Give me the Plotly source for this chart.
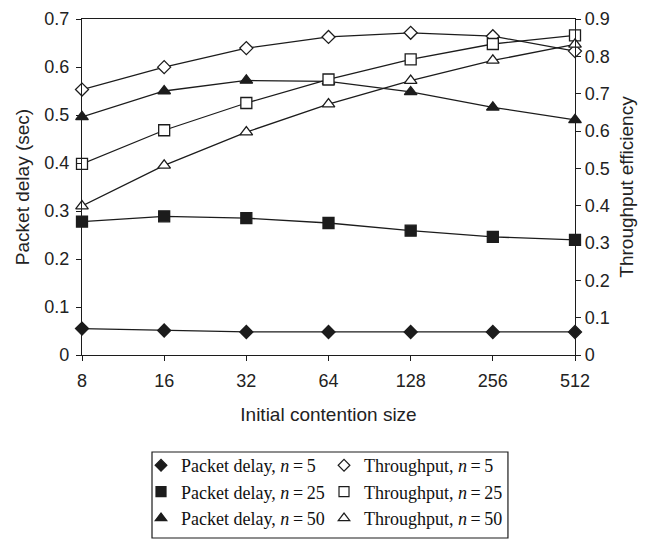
import plotly.graph_objects as go

# Initial contention window sizes (x categories)
contention = ["8", "16", "32", "64", "128", "256", "512"]

# Packet delay in seconds (left axis)
delay_n5 = [0.055, 0.051, 0.048, 0.048, 0.048, 0.048, 0.048]
delay_n25 = [0.278, 0.289, 0.285, 0.275, 0.259, 0.246, 0.240]
delay_n50 = [0.496, 0.550, 0.572, 0.570, 0.548, 0.516, 0.490]

# Throughput efficiency (right axis)
thr_n5 = [0.711, 0.771, 0.822, 0.852, 0.863, 0.854, 0.814]
thr_n25 = [0.512, 0.602, 0.675, 0.738, 0.792, 0.833, 0.856]
thr_n50 = [0.399, 0.508, 0.597, 0.672, 0.735, 0.789, 0.832]

left_ticks = [0, 0.1, 0.2, 0.3, 0.4, 0.5, 0.6, 0.7]
right_ticks = [0, 0.1, 0.2, 0.3, 0.4, 0.5, 0.6, 0.7, 0.8, 0.9]

INK = "#1c1c1c"
SANS = "Liberation Sans, Arial, sans-serif"
SERIF = "Liberation Serif, Times New Roman, serif"
EQ = "\u2009=\u2009"

series = [
    # name, values, axis, symbol, size, filled
    ("Packet delay, <i>n</i>" + EQ + "5", delay_n5, "y", "diamond", 10, True),
    ("Throughput, <i>n</i>" + EQ + "5", thr_n5, "y2", "diamond", 10, False),
    ("Packet delay, <i>n</i>" + EQ + "25", delay_n25, "y", "square", 11, True),
    ("Throughput, <i>n</i>" + EQ + "25", thr_n25, "y2", "square", 11, False),
    ("Packet delay, <i>n</i>" + EQ + "50", delay_n50, "y", "triangle-up", 11, True),
    ("Throughput, <i>n</i>" + EQ + "50", thr_n50, "y2", "triangle-up", 11, False),
]

fig = go.Figure()

# Data lines: delays first, throughput drawn on top
for filled_pass in (True, False):
    for name, vals, axis, sym, size, filled in series:
        if filled != filled_pass:
            continue
        fig.add_trace(go.Scatter(
            x=contention, y=vals, yaxis=axis, mode="lines+markers",
            name=name, showlegend=False, cliponaxis=False,
            line=dict(color=INK, width=1.3),
            marker=dict(symbol=sym, size=size,
                        color=INK if filled else "white",
                        line=dict(color=INK, width=1.3)),
        ))

# Legend keys (marker only)
for name, vals, axis, sym, size, filled in series:
    fig.add_trace(go.Scatter(
        x=[None], y=[None], yaxis=axis, mode="markers", name=name,
        marker=dict(symbol=sym, size=size - 1,
                    color=INK if filled else "white",
                    line=dict(color=INK, width=1.2)),
    ))

# Frame around the legend
fig.add_shape(type="rect", xref="paper", yref="paper",
              x0=0.142, x1=0.864, y0=-0.5446, y1=-0.2887,
              line=dict(color=INK, width=1.2), fillcolor="rgba(0,0,0,0)")

fig.update_layout(
    width=649, height=540,
    margin=dict(l=82, r=74, t=19, b=185, autoexpand=False),
    paper_bgcolor="white", plot_bgcolor="white",
    font=dict(family=SANS, size=18, color="#222222"),
    xaxis=dict(
        type="category", range=[0, 6],
        showline=True, linecolor=INK, linewidth=1.3, mirror=True,
        showgrid=False, zeroline=False,
        ticks="outside", ticklen=5, tickcolor=INK, tickwidth=1.2,
        ticklabelstandoff=4,
        tickfont=dict(size=18),
        title=dict(text="Initial contention size", font=dict(size=19), standoff=17),
    ),
    yaxis=dict(
        range=[0, 0.7], tickvals=left_ticks,
        ticktext=[("%g" % v) for v in left_ticks],
        showline=True, linecolor=INK, linewidth=1.3,
        showgrid=False, zeroline=False,
        ticks="outside", ticklen=5, tickcolor=INK, tickwidth=1.2,
        ticklabelstandoff=3,
        title=dict(text="Packet delay (sec)", font=dict(size=19), standoff=9),
    ),
    yaxis2=dict(
        range=[0, 0.9], tickvals=right_ticks,
        ticktext=[("%g" % v) for v in right_ticks],
        overlaying="y", side="right", anchor="x",
        showline=True, linecolor=INK, linewidth=1.3,
        showgrid=False, zeroline=False,
        ticks="outside", ticklen=5, tickcolor=INK, tickwidth=1.2,
        title=dict(text="Throughput efficiency", font=dict(size=19), standoff=10),
    ),
    yaxis3=dict(
        range=[0, 0.9], tickvals=right_ticks,
        overlaying="y", side="right", anchor="x",
        showline=False, showgrid=False, zeroline=False,
        ticks="inside", ticklen=5, tickcolor=INK, tickwidth=1.2,
        showticklabels=False,
    ),
    legend=dict(
        orientation="h", x=0.1197, y=-0.274, xanchor="left", yanchor="top",
        entrywidth=138, entrywidthmode="pixels",
        borderwidth=0, bgcolor="rgba(0,0,0,0)",
        font=dict(family=SERIF, size=18, color="#111111"),
        itemwidth=30, tracegroupgap=0,
    ),
)

fig.write_html("out.html")
